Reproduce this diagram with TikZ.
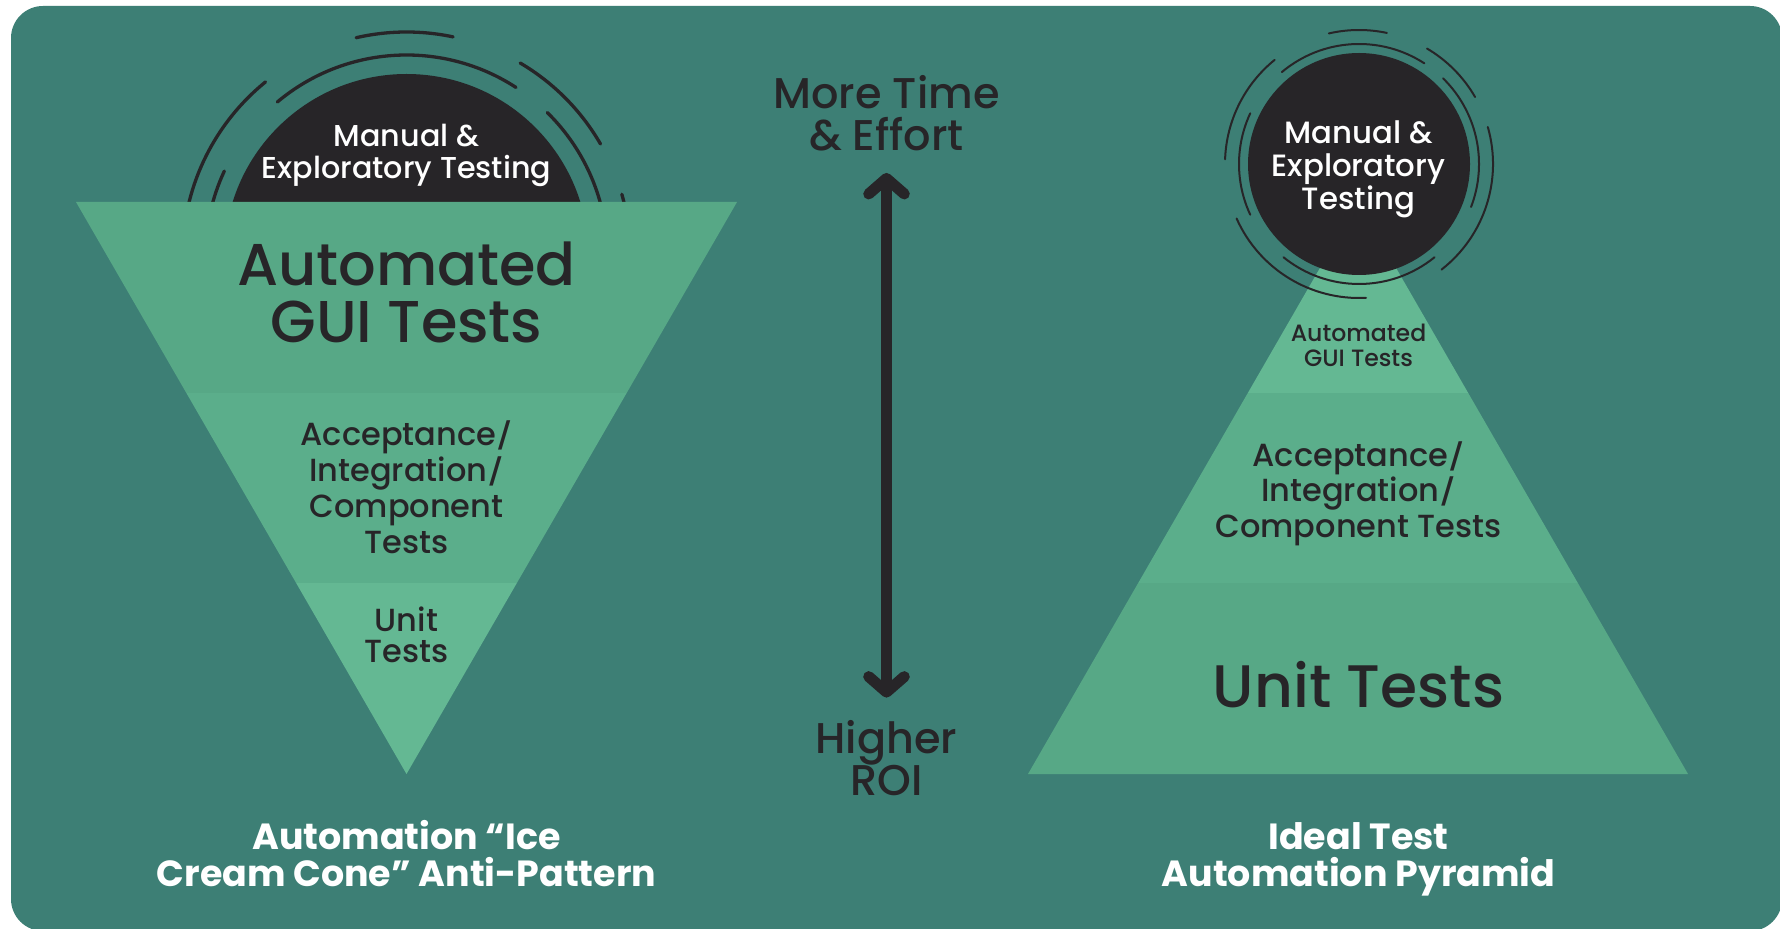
\documentclass[tikz,border=0pt]{standalone}
\usepackage{fontspec}
\setmainfont{Poppins}[UprightFont={* Medium}, BoldFont={* Bold}]
\usetikzlibrary{arrows.meta, positioning}
\lineskiplimit=-100pt

\definecolor{panel}{HTML}{3D7F75}
\definecolor{ink}{HTML}{272528}
\definecolor{layerA}{HTML}{57A886}
\definecolor{layerB}{HTML}{5BAE8B}
\definecolor{layerC}{HTML}{64B893}

\newcommand{\slashmark}{\scalebox{1}[0.82]{/}}

\tikzstyle{disc} = [circle, fill=ink, inner sep=0pt]
\tikzstyle{ringL} = [draw=ink, line cap=round, line width=1.65pt]
\tikzstyle{ringR} = [draw=ink, line cap=round, line width=1pt]
\tikzstyle{tier} = [text=ink, align=center, anchor=base, inner sep=0pt]
\tikzstyle{whitetext} = [text=white, align=center, anchor=base, inner sep=0pt]
\tikzstyle{updown} = [draw=ink, line width=5.5pt, {Straight Barb[length=7.75pt,width=17.8pt,round]}-{Straight Barb[length=7.75pt,width=17.8pt,round]}]

\begin{document}
\begin{tikzpicture}[x=0.5pt, y=0.5pt]
      \useasboundingbox (0,0) rectangle (1780,928);
      \fill[white] (0,0) rectangle (1780,928);
      \fill[panel, rounded corners=16pt] (11,-3) rectangle (1782,922);

      % ice cream cone: scoop first, the cone covers its lower half
      \node (lcirc) [disc, minimum size=182pt] at (406.5,672) {};
      \foreach \s/\e in {78/103, 129/178, 204/273, 308/376, 30/59.5}
        \draw[ringL] (lcirc.center) ++(\s:224) arc[start angle=\s, end angle=\e, radius=224];
      \foreach \s/\e in {57/130, 155/205, 231/309, -21/45.5}
        \draw[ringL] (lcirc.center) ++(\s:201) arc[start angle=\s, end angle=\e, radius=201];
      \begin{scope}
        \clip (76,726) -- (737,726) -- (406.5,154) -- cycle;
        \fill[layerA] (0,535) rectangle (800,740);
        \fill[layerB] (0,345) rectangle (800,535);
        \fill[layerC] (0,140) rectangle (800,345);
      \end{scope}

      % pyramid
      \begin{scope}
        \clip (1028,154) -- (1688,154) -- (1358,726) -- cycle;
        \fill[layerA] (1000,140) rectangle (1700,345);
        \fill[layerB] (1000,345) rectangle (1700,535);
        \fill[layerC] (1000,535) rectangle (1700,740);
      \end{scope}
      \node (rcirc) [disc, minimum size=111pt] at (1359,764) {};
      \foreach \s/\e in {78/103, 129/178, 204/273, 308/376, 30/59.5}
        \draw[ringR] (rcirc.center) ++(\s:134) arc[start angle=\s, end angle=\e, radius=134];
      \foreach \s/\e in {57/130, 155/205, 231/309, -21/45.5}
        \draw[ringR] (rcirc.center) ++(\s:120) arc[start angle=\s, end angle=\e, radius=120];

      % texts (base = baseline of the last line)
      \node (lmanual) [whitetext, font=\fontsize{15.1}{16}\selectfont]   at (406.5,749.5) {Manual \&\\Exploratory Testing};
      \node (lgui)    [tier, font=\fontsize{29.5}{29}\selectfont]        at (406.5,585)   {Automated\\GUI Tests};
      \node (lmid)    [tier, font=\fontsize{16}{18}\selectfont]          at (406.5,375)   {Acceptance\slashmark\\Integration\slashmark\\Component\\Tests};
      \node (lunit)   [tier, font=\fontsize{16}{15.5}\selectfont]        at (406.5,266)   {Unit\\Tests};

      \node (rmanual) [whitetext, font=\fontsize{15.4}{16.4}\selectfont] at (1358.5,718.5) {Manual \&\\Exploratory\\Testing};
      \node (rgui)    [tier, font=\fontsize{11.8}{12.5}\selectfont]      at (1358.5,561)  {Automated\\GUI Tests};
      \node (rmid)    [tier, font=\fontsize{16}{17.8}\selectfont]        at (1358.5,390.5) {Acceptance\slashmark\\Integration\slashmark\\Component Tests};
      \node (runit)   [tier, font=\fontsize{30}{29}\selectfont]          at (1358.5,221)  {Unit Tests};

      \node (effort)  [tier, font=\fontsize{21.5}{21.3}\selectfont]      at (886.5,777) {More Time\\\& Effort};
      \node (roi)     [tier, font=\fontsize{21.5}{21.2}\selectfont]      at (886.5,132.5) {Higher\\ROI};
      \draw [updown, shorten <=10.5pt, shorten >=11pt] (effort) -- (roi);

      \node (lcap) [whitetext, font=\bfseries\fontsize{18.2}{18.3}\selectfont] at (406.5,41.5)  {Automation “Ice\\Cream Cone” Anti-Pattern};
      \node (rcap) [whitetext, font=\bfseries\fontsize{18.2}{18.3}\selectfont] at (1358.5,41.5) {Ideal Test\\Automation Pyramid};
\end{tikzpicture}
\end{document}
